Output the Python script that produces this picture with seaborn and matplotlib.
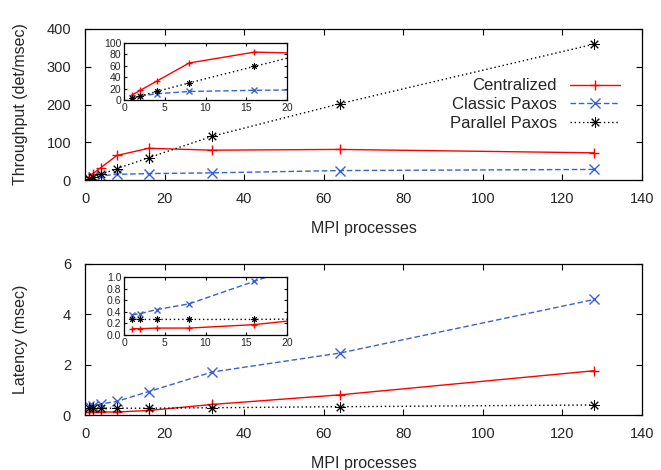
import matplotlib
matplotlib.use("Agg")
import matplotlib.pyplot as plt
import seaborn as sns

# MPI process counts on the x axis
procs = [1, 2, 4, 8, 16, 32, 64, 128]

series_names = ['Centralized', 'Classic Paxos', 'Parallel Paxos']

# throughput (det/msec)
tput_centralized = [9, 17, 33, 65, 84, 79, 81, 72]
tput_classic = [3, 7, 11, 15, 17, 19, 25, 28]
tput_parallel = [3, 7, 15, 30, 59, 116, 202, 360]

# latency (msec)
lat_centralized = [0.11, 0.11, 0.12, 0.12, 0.18, 0.42, 0.80, 1.76]
lat_classic = [0.35, 0.37, 0.44, 0.54, 0.93, 1.71, 2.46, 4.59]
lat_parallel = [0.27, 0.27, 0.27, 0.27, 0.27, 0.29, 0.33, 0.40]

main_xticks = [0, 20, 40, 60, 80, 100, 120, 140]
tput_yticks = [0, 100, 200, 300, 400]
lat_yticks = [0, 2, 4, 6]
inset_xticks = [0, 5, 10, 15, 20]
tput_inset_yticks = [0, 20, 40, 60, 80, 100]
lat_inset_yticks = [0.0, 0.2, 0.4, 0.6, 0.8, 1.0]

sns.set_style("ticks")
plt.rcParams['font.family'] = ['Liberation Sans', 'DejaVu Sans']

styles = {
    'Centralized': dict(color='#ff0000', marker='+', linestyle='-', mew=1.0),
    'Classic Paxos': dict(color='#3c62c8', marker='x', linestyle=(0, (4, 2)), mew=1.0),
    'Parallel Paxos': dict(color='black', marker=(8, 2, 0), linestyle=(0, (1, 2)), mew=0.7),
}


def draw_series(ax, ys, ms, lw, labels=True):
    for name, y in zip(series_names, ys):
        st = dict(styles[name])
        sns.lineplot(x=procs, y=y, ax=ax, label=name if labels else None,
                     markersize=ms, linewidth=lw, markeredgewidth=st.pop('mew'),
                     markeredgecolor=st['color'], legend=False, **st)


def frame(ax, fs, length, pad_x, pad_y):
    ax.tick_params(direction='in', top=True, right=True, length=length,
                   width=0.8, labelsize=fs, color='black')
    ax.tick_params(axis='x', pad=pad_x)
    ax.tick_params(axis='y', pad=pad_y)
    for sp in ax.spines.values():
        sp.set_visible(True)
        sp.set_color('black')
        sp.set_linewidth(0.9)
    ax.set_xlabel('')
    ax.set_ylabel('')


fig = plt.figure(figsize=(6.61, 4.70), dpi=100)

# main panels
ax_top = fig.add_axes([0.1286, 0.617, 0.8427, 0.3213])
ax_bot = fig.add_axes([0.1286, 0.117, 0.8427, 0.3213])
# insets
in_top = fig.add_axes([0.1876, 0.7872, 0.2466, 0.1213])
in_bot = fig.add_axes([0.1876, 0.2872, 0.2466, 0.1230])

draw_series(ax_top, [tput_centralized, tput_classic, tput_parallel], 7.5, 1.0)
draw_series(ax_bot, [lat_centralized, lat_classic, lat_parallel], 7.5, 1.0, labels=False)
draw_series(in_top, [tput_centralized, tput_classic, tput_parallel], 4.5, 1.0, labels=False)
draw_series(in_bot, [lat_centralized, lat_classic, lat_parallel], 4.5, 1.0, labels=False)

for ax, yt, ylab in [(ax_top, tput_yticks, 'Throughput (det/msec)'),
                     (ax_bot, lat_yticks, 'Latency (msec)')]:
    frame(ax, 10.5, 4, 8.5, 10)
    ax.set_xlim(0, 140)
    ax.set_ylim(yt[0], yt[-1])
    ax.set_xticks(main_xticks)
    ax.set_yticks(yt)
    ax.set_xlabel('MPI processes', fontsize=11.5)
    ax.set_ylabel(ylab, fontsize=11.5)
    ax.xaxis.set_label_coords(0.5, -0.27)
    ax.yaxis.set_label_coords(-0.102, 0.5)

for ax, yt in [(in_top, tput_inset_yticks), (in_bot, lat_inset_yticks)]:
    frame(ax, 7.5, 2.5, 2, 2)
    ax.set_xlim(0, 20)
    ax.set_ylim(yt[0], yt[-1])
    ax.set_xticks(inset_xticks)
    ax.set_yticks(yt)
    ax.set_yticklabels([f'{v:g}' if isinstance(v, int) else f'{v:.1f}' for v in yt])
    ax.patch.set_facecolor('white')

ax_top.legend(loc='upper right', bbox_to_anchor=(0.938, 0.833),
              bbox_transform=fig.transFigure, frameon=False, markerfirst=False,
              fontsize=12, handlelength=3.0, handletextpad=0.8,
              labelspacing=0.23, borderpad=0, borderaxespad=0)

fig.savefig('out.png', dpi=100)
